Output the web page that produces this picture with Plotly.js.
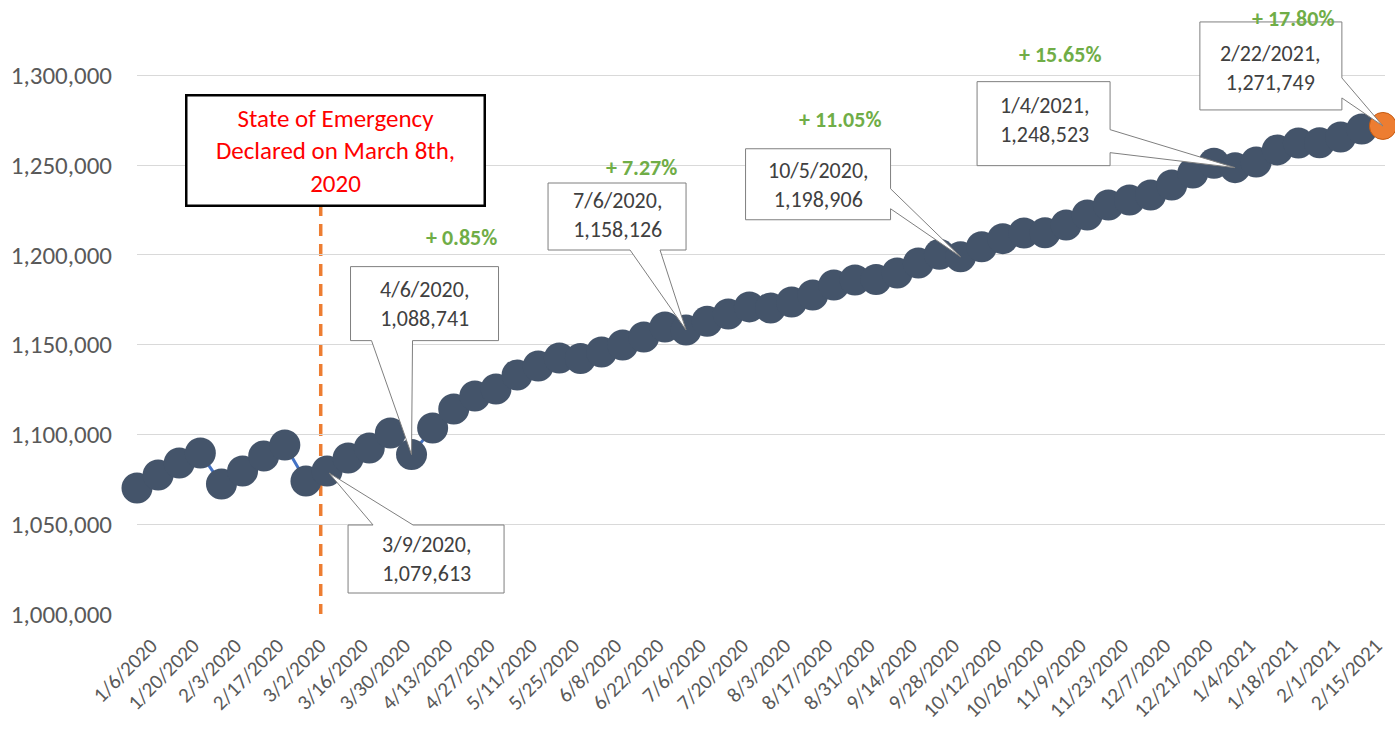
<!DOCTYPE html>
<html>
<head>
<meta charset="utf-8">
<script src="https://cdn.plot.ly/plotly-3.0.1.min.js"></script>
<style>html,body{margin:0;padding:0;background:#fff;}#chart{width:1395px;height:733px;}</style>
</head>
<body>
<div id="chart"></div>
<script>
const weeks = ["1/6/2020","1/13/2020","1/20/2020","1/27/2020","2/3/2020","2/10/2020","2/17/2020","2/24/2020","3/2/2020","3/9/2020","3/16/2020","3/23/2020","3/30/2020","4/6/2020","4/13/2020","4/20/2020","4/27/2020","5/4/2020","5/11/2020","5/18/2020","5/25/2020","6/1/2020","6/8/2020","6/15/2020","6/22/2020","6/29/2020","7/6/2020","7/13/2020","7/20/2020","7/27/2020","8/3/2020","8/10/2020","8/17/2020","8/24/2020","8/31/2020","9/7/2020","9/14/2020","9/21/2020","9/28/2020","10/5/2020","10/12/2020","10/19/2020","10/26/2020","11/2/2020","11/9/2020","11/16/2020","11/23/2020","11/30/2020","12/7/2020","12/14/2020","12/21/2020","12/28/2020","1/4/2021","1/11/2021","1/18/2021","1/25/2021","2/1/2021","2/8/2021","2/15/2021","2/22/2021"];
const totals = [1070200,1077400,1084100,1089600,1072400,1079600,1088000,1094100,1074000,1079613,1086900,1092400,1100800,1088741,1103600,1114100,1121400,1125300,1133100,1138100,1142500,1142300,1145900,1149800,1154200,1159800,1158126,1163000,1167000,1171000,1170400,1173700,1177600,1183200,1186000,1186200,1189900,1195400,1200300,1198906,1204500,1209000,1212100,1212300,1216600,1222200,1227700,1230500,1233300,1238900,1245500,1251000,1248523,1251700,1258400,1262200,1262400,1265600,1270000,1271749];
const baseWeek = "3/9/2020";
const calloutWeeks = ["3/9/2020","4/6/2020","7/6/2020","10/5/2020","1/4/2021","2/22/2021"];
const growthWeeks = ["4/6/2020","7/6/2020","10/5/2020","1/4/2021","2/22/2021"];
const emergencyText = "State of Emergency<br>Declared on March 8th,<br>2020";
const emergencyPos = 8.7;

const idx = weeks.map((w,i)=>i);
const FONT = "Calibri, Carlito, Lato, sans-serif";
const fmt = v => v.toLocaleString('en-US');
const last = weeks.length - 1;

const trace = {
  x: idx, y: totals, type: 'scatter', mode: 'lines+markers', cliponaxis: false,
  line: {color: '#4472C4', width: 3},
  marker: {size: idx.map(i => i === last ? 27 : 31), opacity: 1,
           color: idx.map(i => i === last ? '#ED7D31' : '#44546A'),
           line: {width: idx.map(i => i === last ? 1 : 0), color: '#C55A11'}},
  hoverinfo: 'skip'
};

// callout geometry in px relative to the point (y up)
const geo = {
  "3/9/2020":  {path:"M21,-54 L46,-54 L2,-2 L86,-54 L177,-54 L177,-122 L21,-122 Z", tc:[99,-88]},
  "4/6/2020":  {path:"M-61,114 L-40,114 L0,0 L1,114 L87,114 L87,188 L-61,188 Z", tc:[13,151]},
  "7/6/2020":  {path:"M-138,80 L-56,80 L0,0 L-26,80 L0,80 L0,147 L-138,147 Z", tc:[-69,115]},
  "10/5/2020": {path:"M-215,37 L-70,37 L-70,48 L0,0 L-70,68 L-70,108 L-215,108 Z", tc:[-142,72]},
  "1/4/2021":  {path:"M-258,2 L-125,2 L-125,15 L0,0 L-125,38 L-125,86 L-258,86 Z", tc:[-191,48]},
  "2/22/2021": {path:"M-183,16 L-41,16 L-41,28 L0,0 L-41,48 L-41,104 L-183,104 Z", tc:[-112,58]}
};

const shapes = [];
const annotations = [];
calloutWeeks.forEach(w => {
  const i = weeks.indexOf(w), g = geo[w];
  shapes.push({type:'path', xref:'x', yref:'y', xsizemode:'pixel', ysizemode:'pixel',
    xanchor: i, yanchor: totals[i], path: g.path, fillcolor:'#FFFFFF',
    line:{color:'#7F7F7F', width:1}});
  annotations.push({x:i, y:totals[i], xref:'x', yref:'y', showarrow:false,
    xshift:g.tc[0], yshift:g.tc[1], text: w + ",<br>" + fmt(totals[i]),
    font:{family:FONT, size:22, color:'#404040'}, align:'center'});
});

const baseVal = totals[weeks.indexOf(baseWeek)];
const growthPos = [[15.39,1209360],[23.91,1248600],[33.29,1275060],[43.70,1311250],[54.73,1331850]];
growthWeeks.forEach((w,k) => {
  const v = totals[weeks.indexOf(w)];
  const pct = ((v/baseVal - 1)*100).toFixed(2);
  annotations.push({x:growthPos[k][0], y:growthPos[k][1], xref:'x', yref:'y', showarrow:false,
    text:'<b>+ ' + pct + '%</b>', font:{family:FONT, size:22, color:'#70AD47'}});
});

annotations.push({x:9.38, y:1257800, xref:'x', yref:'y', showarrow:false, text:emergencyText,
  font:{family:FONT, size:25, color:'#FF0000'}, bgcolor:'#FFFFFF', bordercolor:'#000000',
  borderwidth:2.5, width:294, height:106, align:'center', valign:'middle'});

shapes.push({type:'line', xref:'x', yref:'y', x0:emergencyPos, x1:emergencyPos, y0:1228300, y1:996600,
  line:{color:'#ED7D31', width:3.5, dash:'12px,8px'}, layer:'below'});

const layout = {
  width:1395, height:733, margin:{l:137, r:10, t:0, b:119},
  paper_bgcolor:'#FFFFFF', plot_bgcolor:'#FFFFFF', showlegend:false,
  xaxis:{range:[0,59.1], tickmode:'array', tickvals: idx.filter(i=>i%2===0),
    ticktext: idx.filter(i=>i%2===0).map(i=>weeks[i]), tickangle:-45,
    ticks:'outside', ticklen:10, tickcolor:'rgba(0,0,0,0)', ticklabelshift:14,
    showgrid:false, zeroline:false,
    showline:false, tickfont:{family:FONT, size:21, color:'#595959'}, automargin:false},
  yaxis:{range:[1000000,1341870], dtick:50000, tick0:1000000, tickformat:',d',
    gridcolor:'#D9D9D9', gridwidth:1, zeroline:false, showline:false,
    ticks:'outside', ticklen:19, tickcolor:'rgba(0,0,0,0)',
    tickfont:{family:FONT, size:25, color:'#595959'}, automargin:false},
  shapes: shapes, annotations: annotations
};

Plotly.newPlot('chart', [trace], layout, {displayModeBar:false, staticPlot:true});
</script>
</body>
</html>
